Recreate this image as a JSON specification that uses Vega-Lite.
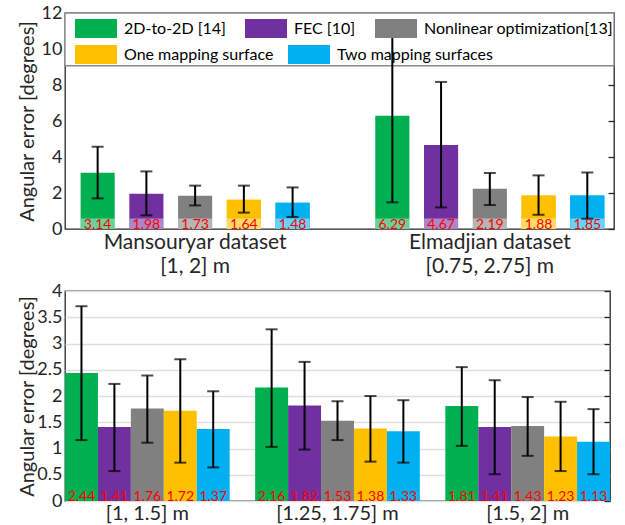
{
  "$schema": "https://vega.github.io/schema/vega-lite/v6.json",
  "padding": {"left": 16, "top": 3, "right": 5, "bottom": 5},
  "spacing": 4,
  "config": {
    "font": "Lato",
    "view": {"stroke": "#262626", "strokeWidth": 1.3},
    "axis": {"labelFont": "Lato", "titleFont": "Lato", "labelColor": "#262626", "titleColor": "#262626", "titleFontWeight": "normal", "gridColor": "#dedede", "gridWidth": 1.5, "domain": false, "ticks": false, "labelOverlap": false, "labelLimit": 400},
    "legend": {"labelFont": "Lato"}
  },
  "resolve": {"scale": {"x": "independent", "y": "independent", "xOffset": "independent", "color": "independent"}, "legend": {"color": "independent"}},
  "vconcat": [
    {
      "width": 549,
      "height": 216,
      "resolve": {"scale": {"color": "independent"}, "legend": {"color": "independent"}, "axis": {"y": "independent"}},
      "data": {"values": [
        {"group": "Mansouryar dataset|[1, 2] m", "method": "2D-to-2D [14]", "mean": 3.13, "label": "3.14", "lo": 1.70, "hi": 4.57},
        {"group": "Mansouryar dataset|[1, 2] m", "method": "FEC [10]", "mean": 1.96, "label": "1.98", "lo": 0.76, "hi": 3.20},
        {"group": "Mansouryar dataset|[1, 2] m", "method": "Nonlinear optimization[13]", "mean": 1.85, "label": "1.73", "lo": 1.31, "hi": 2.41},
        {"group": "Mansouryar dataset|[1, 2] m", "method": "One mapping surface", "mean": 1.63, "label": "1.64", "lo": 0.91, "hi": 2.41},
        {"group": "Mansouryar dataset|[1, 2] m", "method": "Two mapping surfaces", "mean": 1.46, "label": "1.48", "lo": 0.67, "hi": 2.31},
        {"group": "Elmadjian dataset|[0.75, 2.75] m", "method": "2D-to-2D [14]", "mean": 6.29, "label": "6.29", "lo": 1.48, "hi": 11.14},
        {"group": "Elmadjian dataset|[0.75, 2.75] m", "method": "FEC [10]", "mean": 4.67, "label": "4.67", "lo": 1.20, "hi": 8.17},
        {"group": "Elmadjian dataset|[0.75, 2.75] m", "method": "Nonlinear optimization[13]", "mean": 2.24, "label": "2.19", "lo": 1.33, "hi": 3.11},
        {"group": "Elmadjian dataset|[0.75, 2.75] m", "method": "One mapping surface", "mean": 1.86, "label": "1.88", "lo": 0.79, "hi": 2.98},
        {"group": "Elmadjian dataset|[0.75, 2.75] m", "method": "Two mapping surfaces", "mean": 1.86, "label": "1.85", "lo": 0.57, "hi": 3.14}
      ]},
      "encoding": {
        "x": {"field": "group", "type": "nominal", "sort": null, "title": null,
              "scale": {"paddingInner": 0.173, "paddingOuter": 0.018, "align": 0.78},
              "axis": {"labelExpr": "split(datum.label, '|')", "labelAngle": 0, "labelFontSize": 21, "labelLineHeight": 24, "labelPadding": 2, "labelBaseline": "top"}},
        "xOffset": {"field": "method", "type": "nominal", "sort": null, "scale": {"paddingInner": 0.3, "paddingOuter": 0.15}}
      },
      "layer": [
        {
          "data": {"values": [{}]},
          "mark": {"type": "rect", "fill": "white", "stroke": "#8a8a8a", "strokeWidth": 1.3},
          "encoding": {
            "x": null, "xOffset": null,
            "y": {"datum": 9.07, "type": "quantitative", "scale": {"domain": [0, 12], "nice": false}, "axis": null},
            "y2": {"datum": 12}
          }
        },
        {
          "mark": {"type": "bar"},
          "encoding": {
            "y": {"field": "mean", "type": "quantitative", "title": "Angular error [degrees]",
                  "scale": {"domain": [0, 12], "nice": false},
                  "axis": {"values": [0, 2, 4, 6, 8, 10, 12], "labelFontSize": 18, "titleFontSize": 20, "labelPadding": 3, "minExtent": 22, "maxExtent": 22, "titlePadding": 6}},
            "color": {"field": "method", "type": "nominal",
                      "scale": {"domain": ["2D-to-2D [14]", "FEC [10]", "Nonlinear optimization[13]", "One mapping surface", "Two mapping surfaces"],
                                "range": ["#00B050", "#7030A0", "#808080", "#FFC000", "#00B0F0"]},
                      "legend": {"title": null, "orient": "none", "legendX": 10, "legendY": 6, "direction": "horizontal",
                                 "values": ["2D-to-2D [14]", "FEC [10]", "Nonlinear optimization[13]"],
                                 "symbolType": "M-1,-0.45H1V0.45H-1Z", "symbolSize": 1764, "symbolStrokeWidth": 0, "symbolOpacity": 1, "clipHeight": 19,
                                 "labelFontSize": 16, "labelColor": "#000000", "labelOffset": 7, "columnPadding": 19, "padding": 0, "labelLimit": 400}}
          }
        },
        {
          "transform": [{"filter": {"field": "method", "oneOf": ["One mapping surface", "Two mapping surfaces"]}}],
          "mark": {"type": "bar"},
          "encoding": {
            "y": {"field": "mean", "type": "quantitative", "axis": null},
            "color": {"field": "method", "type": "nominal",
                      "scale": {"domain": ["One mapping surface", "Two mapping surfaces"], "range": ["#FFC000", "#00B0F0"]},
                      "legend": {"title": null, "orient": "none", "legendX": 10, "legendY": 32, "direction": "horizontal",
                                 "symbolType": "M-1,-0.45H1V0.45H-1Z", "symbolSize": 1764, "symbolStrokeWidth": 0, "symbolOpacity": 1, "clipHeight": 19,
                                 "labelFontSize": 16, "labelColor": "#000000", "labelOffset": 7, "columnPadding": 14, "padding": 0, "labelLimit": 400}}
          }
        },
        {
          "mark": {"type": "bar", "color": "white", "opacity": 0.42},
          "encoding": {
            "y": {"datum": 0.59, "type": "quantitative", "axis": null},
            "y2": {"datum": 0}
          }
        },
        {
          "mark": {"type": "rule", "color": "black", "strokeWidth": 2},
          "encoding": {"y": {"field": "lo", "type": "quantitative",
                  "axis": {"orient": "right", "values": [0, 2, 4, 6, 8, 10, 12], "labels": false, "grid": false, "ticks": true, "tickSize": -6, "tickColor": "#262626", "tickWidth": 1.3, "title": null, "minExtent": 0, "maxExtent": 0}}, "y2": {"field": "hi"}}
        },
        {
          "mark": {"type": "tick", "color": "black", "thickness": 2, "size": 12},
          "encoding": {"y": {"field": "lo", "type": "quantitative", "axis": null}}
        },
        {
          "mark": {"type": "tick", "color": "black", "thickness": 2, "size": 12},
          "encoding": {"y": {"field": "hi", "type": "quantitative", "axis": null}}
        },
        {
          "mark": {"type": "text", "color": "#FF0000", "fontSize": 14, "baseline": "alphabetic"},
          "encoding": {"y": {"datum": 0, "type": "quantitative", "axis": null}, "text": {"field": "label"}}
        }
      ]
    },
    {
      "width": 545,
      "height": 210,
      "resolve": {"axis": {"y": "independent"}},
      "data": {"values": [
        {"group": "[1, 1.5] m", "method": "2D-to-2D [14]", "mean": 2.44, "lo": 1.16, "hi": 3.71},
        {"group": "[1, 1.5] m", "method": "FEC [10]", "mean": 1.41, "lo": 0.57, "hi": 2.23},
        {"group": "[1, 1.5] m", "method": "Nonlinear optimization[13]", "mean": 1.76, "lo": 1.11, "hi": 2.39},
        {"group": "[1, 1.5] m", "method": "One mapping surface", "mean": 1.72, "lo": 0.73, "hi": 2.70},
        {"group": "[1, 1.5] m", "method": "Two mapping surfaces", "mean": 1.37, "lo": 0.64, "hi": 2.09},
        {"group": "[1.25, 1.75] m", "method": "2D-to-2D [14]", "mean": 2.16, "lo": 1.03, "hi": 3.27},
        {"group": "[1.25, 1.75] m", "method": "FEC [10]", "mean": 1.82, "lo": 0.98, "hi": 2.65},
        {"group": "[1.25, 1.75] m", "method": "Nonlinear optimization[13]", "mean": 1.53, "lo": 1.16, "hi": 1.90},
        {"group": "[1.25, 1.75] m", "method": "One mapping surface", "mean": 1.38, "lo": 0.75, "hi": 2.00},
        {"group": "[1.25, 1.75] m", "method": "Two mapping surfaces", "mean": 1.33, "lo": 0.73, "hi": 1.92},
        {"group": "[1.5, 2] m", "method": "2D-to-2D [14]", "mean": 1.81, "lo": 1.05, "hi": 2.55},
        {"group": "[1.5, 2] m", "method": "FEC [10]", "mean": 1.41, "lo": 0.51, "hi": 2.30},
        {"group": "[1.5, 2] m", "method": "Nonlinear optimization[13]", "mean": 1.43, "lo": 0.86, "hi": 1.98},
        {"group": "[1.5, 2] m", "method": "One mapping surface", "mean": 1.23, "lo": 0.57, "hi": 1.89},
        {"group": "[1.5, 2] m", "method": "Two mapping surfaces", "mean": 1.13, "lo": 0.51, "hi": 1.75}
      ]},
      "encoding": {
        "x": {"field": "group", "type": "nominal", "sort": null, "title": null,
              "scale": {"paddingInner": 0.134, "paddingOuter": 0},
              "axis": {"labelAngle": 0, "labelFontSize": 20, "labelPadding": 2, "labelBaseline": "top"}},
        "xOffset": {"field": "method", "type": "nominal", "sort": null, "scale": {"paddingInner": 0, "paddingOuter": 0}}
      },
      "layer": [
        {
          "mark": {"type": "bar"},
          "encoding": {
            "y": {"field": "mean", "type": "quantitative", "title": "Angular error [degrees]",
                  "scale": {"domain": [0, 4], "nice": false},
                  "axis": {"values": [0, 0.5, 1, 1.5, 2, 2.5, 3, 3.5, 4], "format": "~g", "labelFontSize": 18, "titleFontSize": 20, "labelPadding": 3, "minExtent": 22, "maxExtent": 22, "titlePadding": 6}},
            "color": {"field": "method", "type": "nominal",
                      "scale": {"domain": ["2D-to-2D [14]", "FEC [10]", "Nonlinear optimization[13]", "One mapping surface", "Two mapping surfaces"],
                                "range": ["#00B050", "#7030A0", "#808080", "#FFC000", "#00B0F0"]},
                      "legend": null}
          }
        },
        {
          "mark": {"type": "rule", "color": "black", "strokeWidth": 2},
          "encoding": {"y": {"field": "lo", "type": "quantitative",
                  "axis": {"orient": "right", "values": [0, 0.5, 1, 1.5, 2, 2.5, 3, 3.5, 4], "labels": false, "grid": false, "ticks": true, "tickSize": -6, "tickColor": "#262626", "tickWidth": 1.3, "title": null, "minExtent": 0, "maxExtent": 0}}, "y2": {"field": "hi"}}
        },
        {
          "mark": {"type": "tick", "color": "black", "thickness": 2, "size": 12},
          "encoding": {"y": {"field": "lo", "type": "quantitative", "axis": null}}
        },
        {
          "mark": {"type": "tick", "color": "black", "thickness": 2, "size": 12},
          "encoding": {"y": {"field": "hi", "type": "quantitative", "axis": null}}
        },
        {
          "mark": {"type": "text", "color": "#FF0000", "fontSize": 14, "baseline": "alphabetic"},
          "encoding": {"y": {"datum": 0, "type": "quantitative", "axis": null}, "text": {"field": "mean", "type": "quantitative", "format": ".2f"}}
        }
      ]
    }
  ]
}
